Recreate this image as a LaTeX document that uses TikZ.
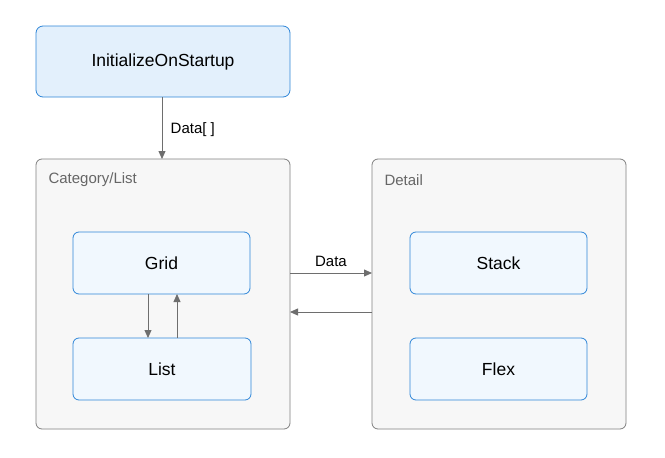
\documentclass[tikz,border=0pt]{standalone}
\usepackage{fontspec}
\setmainfont{Liberation Sans}
\usetikzlibrary{arrows.meta}
\definecolor{topfill}{HTML}{E3F0FC}
\definecolor{innerfill}{HTML}{F1F8FE}
\definecolor{bluedge}{HTML}{2F86D8}
\definecolor{contfill}{HTML}{F7F7F7}
\definecolor{contedge}{HTML}{808080}
\definecolor{arrowcol}{HTML}{6E6E6E}
\definecolor{conttext}{HTML}{666666}
\tikzset{
  topbox/.style={draw=bluedge, fill=topfill, rounded corners=7pt, line width=0.8pt},
  innerbox/.style={draw=bluedge, fill=innerfill, rounded corners=6pt, line width=0.8pt},
  contbox/.style={draw=contedge, fill=contfill, rounded corners=6pt, line width=0.8pt},
  nodetext/.style={font=\fontsize{17.5}{20}\selectfont, text=black},
  conttitle/.style={font=\fontsize{15}{18}\selectfont, text=conttext, anchor=west},
  lbl/.style={font=\fontsize{15}{18}\selectfont, text=black},
  conn/.style={draw=arrowcol, line width=0.8pt, -{Triangle[length=8pt,width=7pt]}, arrowcol},
}
\begin{document}
\begin{tikzpicture}[x=1pt,y=-1pt]
\useasboundingbox (0,0) rectangle (665,458);
\fill[white] (0,0) rectangle (665,458);
% containers
\draw[contbox] (36,159) rectangle (290,429);
\draw[contbox] (372,159) rectangle (626,429);
\node[conttitle] (cattitle) at (45,180) {Category/List};
\node[conttitle] (dettitle) at (381,180) {Detail};
% boxes
\draw[topbox] (36,26) rectangle (290,97);
\node[nodetext] (init) at (163,61.5) {InitializeOnStartup};
\draw[innerbox] (73,232) rectangle (250,294);
\node[nodetext] (grid) at (161.5,263) {Grid};
\draw[innerbox] (73,338) rectangle (251,400);
\node[nodetext] (list) at (162,369) {List};
\draw[innerbox] (410,232) rectangle (587,294);
\node[nodetext] (stack) at (498.5,263) {Stack};
\draw[innerbox] (410,338) rectangle (587,400);
\node[nodetext] (flex) at (498.5,369) {Flex};
% anchor coordinates
\coordinate (initB) at (162,97);
\coordinate (catT) at (162,159);
\coordinate (gridB1) at (148,294);
\coordinate (listT1) at (148,338);
\coordinate (listT2) at (177,338);
\coordinate (gridB2) at (177,294);
\coordinate (catR1) at (290,273);
\coordinate (detL1) at (372,273);
\coordinate (detL2) at (372,312);
\coordinate (catR2) at (290,312);
% connectors
\draw[conn] (initB) -- node[lbl, right, xshift=5pt, yshift=-2pt] {Data[ ]} (catT);
\draw[conn] (gridB1) -- (listT1);
\draw[conn] (listT2) -- (gridB2);
\draw[conn] (catR1) -- node[lbl, above, yshift=3pt] {Data} (detL1);
\draw[conn] (detL2) -- (catR2);
\end{tikzpicture}
\end{document}
